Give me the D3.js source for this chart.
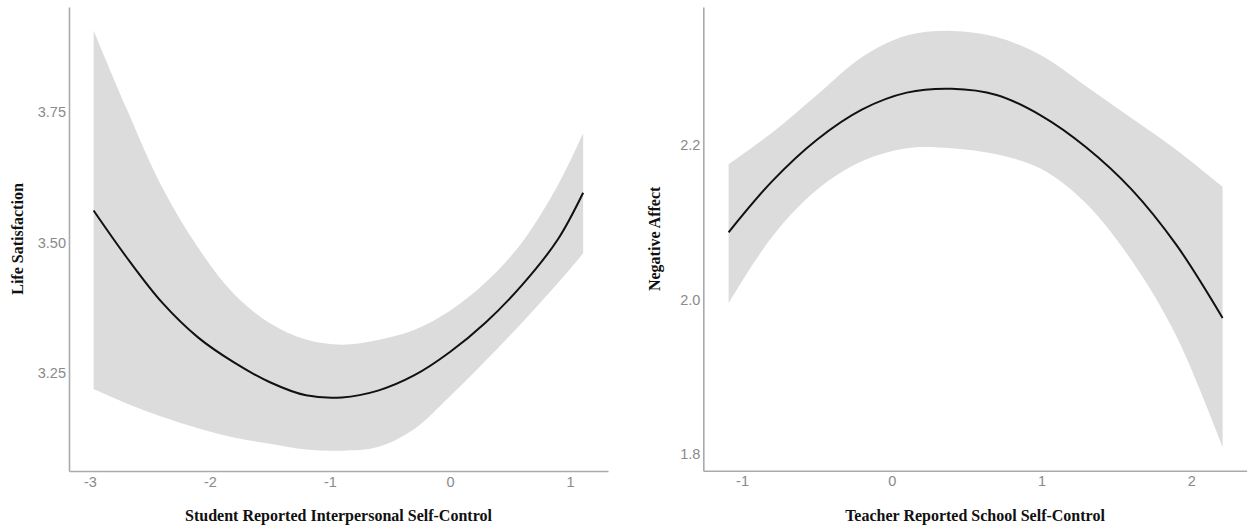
<!DOCTYPE html>
<html>
<head>
<meta charset="utf-8">
<script src="https://cdn.jsdelivr.net/npm/d3@7"></script>
<style>
  body { margin: 0; background: white; }
  .tick text { fill: #8a8a8a; font-family: "Liberation Sans", Arial, sans-serif; font-size: 14.5px; }
  .axisTitle { font-family: "Liberation Serif", "Times New Roman", serif; font-weight: bold; font-size: 16px; fill: #111; }
</style>
</head>
<body>
<script>
const width = 1258;
const height = 531;

// left panel: life satisfaction by student reported interpersonal self-control
const lsX     = [-2.97, -2.7, -2.4, -2.1, -1.8, -1.5, -1.2, -0.9, -0.6, -0.3, 0, 0.3, 0.6, 0.9, 1.11];
const lsFit   = [3.561, 3.473, 3.385, 3.318, 3.270, 3.232, 3.207, 3.203, 3.216, 3.245, 3.290, 3.347, 3.418, 3.506, 3.595];
const lsUpper = [3.906, 3.759, 3.606, 3.490, 3.401, 3.345, 3.314, 3.304, 3.313, 3.332, 3.369, 3.424, 3.500, 3.610, 3.709];
const lsLower = [3.219, 3.192, 3.166, 3.144, 3.126, 3.114, 3.103, 3.101, 3.108, 3.142, 3.205, 3.274, 3.346, 3.422, 3.479];
const lsXTicks = [-3, -2, -1, 0, 1];
const lsYTicks = [3.25, 3.50, 3.75];

// right panel: negative affect by teacher reported school self-control
const naX     = [-1.09, -0.8, -0.5, -0.2, 0.1, 0.4, 0.7, 1.0, 1.3, 1.6, 1.9, 2.21];
const naFit   = [2.087, 2.153, 2.207, 2.246, 2.268, 2.273, 2.265, 2.238, 2.197, 2.143, 2.071, 1.976];
const naUpper = [2.175, 2.216, 2.265, 2.314, 2.342, 2.348, 2.340, 2.316, 2.276, 2.235, 2.194, 2.146];
const naLower = [1.995, 2.081, 2.142, 2.179, 2.196, 2.196, 2.188, 2.169, 2.124, 2.051, 1.953, 1.809];
const naXTicks = [-1, 0, 1, 2];
const naYTicks = [1.8, 2.0, 2.2];

const svg = d3.select("body").append("svg")
    .attr("width", width)
    .attr("height", height);

function drawPanel(p) {
    const x = d3.scaleLinear().domain(p.xDomain).range([p.left, p.right]);
    const y = d3.scaleLinear().domain(p.yDomain).range([p.bottom, p.top]);
    const rows = p.xs.map((v, i) => ({x: v, fit: p.fit[i], lo: p.lower[i], hi: p.upper[i]}));

    const g = svg.append("g");

    g.append("path")
        .datum(rows)
        .attr("fill", "#dcdcdc")
        .attr("d", d3.area()
            .x(d => x(d.x))
            .y0(d => y(d.lo))
            .y1(d => y(d.hi))
            .curve(d3.curveCatmullRom));

    g.append("path")
        .datum(rows)
        .attr("fill", "none")
        .attr("stroke", "#111")
        .attr("stroke-width", 2)
        .attr("d", d3.line()
            .x(d => x(d.x))
            .y(d => y(d.fit))
            .curve(d3.curveCatmullRom));

    const xAxis = g.append("g")
        .attr("transform", `translate(0,${p.bottom})`)
        .call(d3.axisBottom(x).tickValues(p.xTicks).tickFormat(d => String(d)).tickSize(0).tickPadding(5.5));
    const yAxis = g.append("g")
        .attr("transform", `translate(${p.left},0)`)
        .call(d3.axisLeft(y).tickValues(p.yTicks).tickFormat(d3.format(p.yFmt)).tickSize(0).tickPadding(3));

    for (const a of [xAxis, yAxis]) {
        a.select(".domain").attr("stroke", "#aaaaaa").attr("stroke-width", 1.6);
        a.attr("font-family", null).attr("font-size", null);
    }

    svg.append("text")
        .attr("class", "axisTitle")
        .attr("x", (p.left + p.right) / 2)
        .attr("y", 521)
        .attr("text-anchor", "middle")
        .text(p.xTitle);

    svg.append("text")
        .attr("class", "axisTitle")
        .attr("transform", `translate(${p.yTitleX},${(p.top + p.bottom) / 2}) rotate(-90)`)
        .attr("text-anchor", "middle")
        .text(p.yTitle);
}

drawPanel({
    xs: lsX, fit: lsFit, upper: lsUpper, lower: lsLower,
    xTicks: lsXTicks, yTicks: lsYTicks, yFmt: ".2f",
    xDomain: [-3.175, 1.317], yDomain: [3.062, 3.951],
    left: 69, right: 608, top: 7, bottom: 471,
    xTitle: "Student Reported Interpersonal Self-Control",
    yTitle: "Life Satisfaction", yTitleX: 23
});

drawPanel({
    xs: naX, fit: naFit, upper: naUpper, lower: naLower,
    xTicks: naXTicks, yTicks: naYTicks, yFmt: ".1f",
    xDomain: [-1.259, 2.371], yDomain: [1.778, 2.379],
    left: 703.3, right: 1246.7, top: 7, bottom: 470.7,
    xTitle: "Teacher Reported School Self-Control",
    yTitle: "Negative Affect", yTitleX: 660
});
</script>
</body>
</html>
